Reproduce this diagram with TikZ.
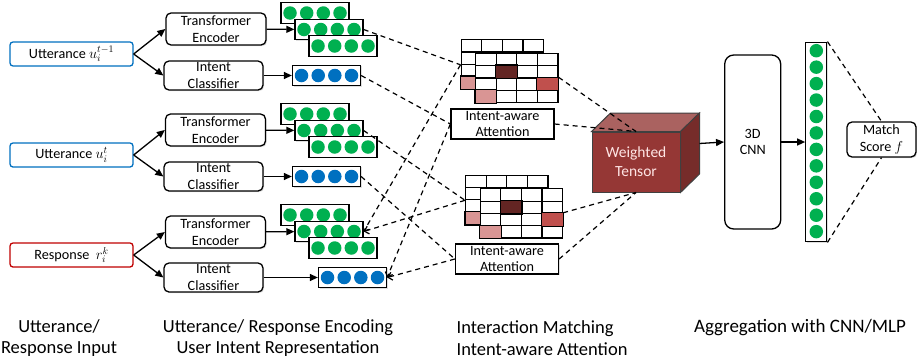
\documentclass[tikz,border=0pt]{standalone}
\usepackage{fontspec}
\setmainfont{Carlito}
\usetikzlibrary{arrows.meta,shadows}
\def\boxfont{\fontsize{14.2}{16.5}\selectfont}
\def\capfont{\fontsize{18.5}{21.5}\selectfont}
\definecolor{uttblue}{RGB}{0,112,192}
\definecolor{resred}{RGB}{192,0,0}
\definecolor{dotgreen}{RGB}{0,176,80}
\definecolor{dotblue}{RGB}{0,112,192}
\definecolor{tfront}{RGB}{149,55,53}
\definecolor{ttop}{RGB}{170,98,96}
\definecolor{tside}{RGB}{118,44,42}
\definecolor{celldark}{RGB}{99,37,35}
\definecolor{cellred}{RGB}{192,80,77}
\definecolor{cellpink}{RGB}{217,149,148}

\begin{document}
\begin{tikzpicture}[x=1pt,y=-1pt,
    shade box/.style={drop shadow={shadow xshift=1.2pt,shadow yshift=-1.2pt,opacity=.25}},
    inbox/.style={draw,line width=1.3pt,rounded corners=3pt,fill=white,minimum width=123pt,minimum height=24pt,inner sep=0pt,font=\boxfont},
    block/.style={draw,line width=1.3pt,rounded corners=5pt,fill=white,minimum width=100pt,minimum height=32pt,inner sep=0pt,align=center,font=\boxfont,shade box},
    icbox/.style={block,minimum width=99pt,minimum height=29pt},
    vecbox/.style={draw,line width=1.3pt,fill=white,minimum width=68pt,minimum height=20.5pt,inner sep=0pt,shade box},
    gdot/.style={circle,fill=dotgreen,minimum size=13.5pt,inner sep=0pt},
    bdot/.style={circle,fill=dotblue,minimum size=13.5pt,inner sep=0pt},
    cell/.style={draw,line width=1.2pt,fill=white,minimum width=20.6pt,minimum height=12.3pt,inner sep=0pt,anchor=north west},
    iabox/.style={draw,line width=1.3pt,fill=white,minimum width=103pt,minimum height=30pt,inner sep=0pt,align=center,font=\boxfont,shade box},
    arr/.style={-{Triangle[length=8pt,width=7pt]},line width=1.3pt},
    link/.style={line width=1.2pt,dash pattern=on 5pt off 4pt},
    linkarr/.style={link,-{Straight Barb[length=4pt,width=8pt]}}]
\useasboundingbox (0,0) rectangle (917,362);
%
% inputs
\node [inbox,draw=uttblue] at (71.5,54) (in1) {Utterance $u_i^{t-1}$};
\node [inbox,draw=uttblue] at (71.5,155) (in2) {Utterance $u_i^{t}$};
\node [inbox,draw=resred] at (71.5,255) (in3) {Response~~$r_i^{k}$};
%
% encoders and classifiers
\node [block] at (216,29) (te1) {Transformer\\Encoder};
\node [icbox] at (213.5,75.5) (ic1) {Intent\\Classifier};
\node [block] at (215.5,130) (te2) {Transformer\\Encoder};
\node [icbox] at (213.5,176.5) (ic2) {Intent\\Classifier};
\node [block] at (215.5,232) (te3) {Transformer\\Encoder};
\node [icbox] at (213.5,277.5) (ic3) {Intent\\Classifier};
%
% encoded vectors
\foreach \s/\y in {1/13,2/114,3/215}{
  \foreach \l/\dx/\dy in {a/0/0,b/14/16.5,c/28/33}{
    \node [vecbox] at (315+\dx,\y+\dy) (enc\s\l) {};
    \foreach \k [count=\n] in {-25,-8.3,8.3,25}
      \node [gdot] at ([xshift=\k pt]enc\s\l.center) (enc\s\l-\n) {};
  }
}
\foreach \v/\x/\y in {1/326.5/75.5,2/326.5/176.5,3/352.5/277.5}{
  \node [vecbox] at (\x,\y) (int\v) {};
  \foreach \k [count=\n] in {-25,-8.3,8.3,25}
    \node [bdot] at ([xshift=\k pt]int\v.center) (int\v-\n) {};
}
%
% attention grids
\foreach \g/\gx/\gy in {1/0/0,2/4.5/135.5}{
  \foreach \r in {1,...,4}
    \foreach \c in {1,...,4}
      \node [cell] at (460.5+\gx+20.6*\c-20.6,39+\gy+12.3*\r-12.3) (g\g b-\r-\c) {};
  \filldraw [fill=cellpink,line width=1.2pt] (g\g b-4-1.north west) rectangle (g\g b-4-1.south east);
  \foreach \r in {1,...,4}
    \foreach \c in {1,...,4}
      \node [cell] at (475+\gx+20.6*\c-20.6,52.7+\gy+12.3*\r-12.3) (g\g f-\r-\c) {};
  \filldraw [fill=celldark,line width=1.2pt] (g\g f-2-2.north west) rectangle (g\g f-2-2.south east);
  \filldraw [fill=cellred,line width=1.2pt] (g\g f-3-4.north west) rectangle (g\g f-3-4.south east);
  \filldraw [fill=cellpink,line width=1.2pt] (g\g f-4-1.north west) rectangle (g\g f-4-1.south east);
}
\node [iabox] at (502.5,124) (ia1) {Intent-aware\\Attention};
\node [iabox] at (507,259) (ia2) {Intent-aware\\Attention};
%
% weighted tensor
\node [draw=black!75,line width=1pt,fill=tfront,minimum width=88pt,minimum height=60pt,inner sep=0pt,align=center,text=white!90!red,font=\fontsize{15.5}{19}\selectfont] at (636,162) (wt) {Weighted\\Tensor};
\filldraw [fill=ttop,draw=black!75,line width=1pt] (wt.north west) -- ++(19,-18.5) -- ([shift={(19,-18.5)}]wt.north east) -- (wt.north east) -- cycle;
\filldraw [fill=tside,draw=black!75,line width=1pt] (wt.north east) -- ++(19,-18.5) -- ([shift={(19,-18.5)}]wt.south east) -- (wt.south east) -- cycle;
\coordinate (wt side) at ([shift={(19,-18.5)}]wt.east);
%
% aggregation
\node [draw,line width=1.3pt,rounded corners=9pt,minimum width=56pt,minimum height=174pt,inner sep=0pt,align=center,font=\boxfont] at (752.7,142) (cnn) {3D\\CNN};
\node [draw,line width=1.3pt,fill=white,minimum width=21pt,minimum height=199.5pt,inner sep=0pt,shade box] at (816.3,142) (vec) {};
\foreach \k in {1,...,12}
  \node [gdot] at (816.3,50.7+16.45*\k-16.45) (vec-\k) {};
\node [draw,line width=1.3pt,rounded corners=5pt,fill=white,minimum width=69pt,minimum height=35pt,inner sep=0pt,align=center,font=\boxfont,shade box] at (881.5,139.5) (score) {Match\\Score $f$};
%
\path[arr] (in1.east) edge (te1.west) edge (ic1.west);
\path[arr] (in2.east) edge (te2.west) edge (ic2.west);
\path[arr] (in3.east) edge (te3.west) edge (ic3.west);
\path[arr] (te1) edge (enc1b) (ic1) edge (int1);
\path[arr] (te2) edge (enc2b) (ic2) edge (int2);
\path[arr] (te3) edge (enc3b) (ic3) edge (int3);
%
\draw[link] (enc1b.east) -- (g1b-2-1.south west);
\draw[link] (int1.east) -- (ia1.west);
\draw[link] (enc2b.east) -- (g2b-2-1.south west);
\draw[link] (int2.east) -- (ia2.west);
\draw[linkarr] (g1b-2-1.south west) -- (enc3b.east);
\draw[linkarr] (ia1.west) -- (int3.east);
\draw[linkarr] (g2b-2-1.south west) -- (enc3b.east);
\draw[linkarr] (ia2.west) -- (int3.east);
%
\draw[link] (g1f-3-4.north east) -- (wt.north);
\draw[link] (ia1.east) -- (wt.north);
\draw[link] (g2f-3-4.north east) -- (wt.south);
\draw[link] (ia2.east) -- (wt.south);
\draw[arr] (wt side) -- (cnn.west);
\draw[arr] (cnn.east) -- (vec.west);
\draw[link] (vec.north east) -- (score.north);
\draw[link] (vec.south east) -- (score.south);
%
% captions
\node [align=center,font=\capfont,inner sep=0pt] at (59,338) (cap1) {Utterance/\\Response Input};
\node [align=center,font=\capfont,inner sep=0pt] at (278,338) (cap2) {Utterance/ Response Encoding\\User Intent Representation};
\node [align=left,font=\capfont,inner sep=0pt,anchor=west] at (456.5,338) (cap3) {Interaction Matching\\Intent-aware Attention};
\node [font=\fontsize{19}{21.5}\selectfont,inner sep=0pt,anchor=base] at (800,332) (cap4) {Aggregation with CNN/MLP};
\end{tikzpicture}
\end{document}
